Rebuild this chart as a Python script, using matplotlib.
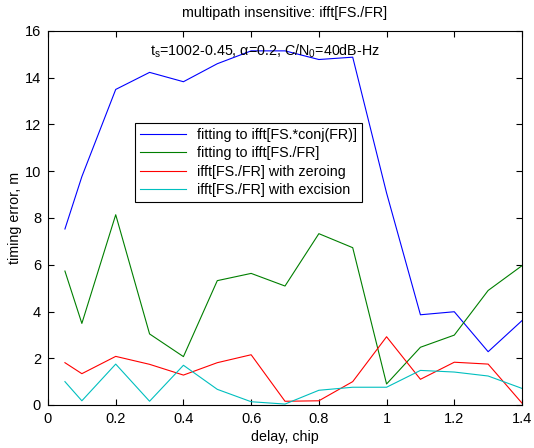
import matplotlib
matplotlib.use('Agg')
import matplotlib.pyplot as plt
import numpy as np

plt.rcParams['font.family'] = ['Liberation Sans', 'DejaVu Sans']
plt.rcParams['mathtext.default'] = 'regular'

# delay values (chip)
delay = [0.05, 0.1, 0.2, 0.3, 0.4, 0.5, 0.6, 0.7, 0.8, 0.9, 1.0, 1.1, 1.2, 1.3, 1.4]

# timing error, m
fit_conj = [7.53, 9.77, 13.5, 14.23, 13.83, 14.6, 15.15, 15.15, 14.78, 14.88, 9.07, 3.86, 3.99, 2.28, 3.61]
fit_div = [5.73, 3.49, 8.14, 3.04, 2.07, 5.32, 5.63, 5.09, 7.33, 6.73, 0.9, 2.47, 2.99, 4.9, 5.96]
zeroing = [1.81, 1.34, 2.08, 1.74, 1.28, 1.81, 2.15, 0.16, 0.18, 1.0, 2.92, 1.1, 1.83, 1.75, 0.08]
excision = [1.0, 0.18, 1.75, 0.16, 1.7, 0.67, 0.14, 0.04, 0.63, 0.76, 0.76, 1.48, 1.41, 1.24, 0.71]

labels = ['fitting to ifft[FS.*conj(FR)]', 'fitting to ifft[FS./FR]',
          'ifft[FS./FR] with zeroing', 'ifft[FS./FR] with excision']
colors = ['#0000ff', '#007f00', '#ff0000', '#00bfbf']

fig = plt.figure(figsize=(5.34, 4.48), dpi=100)
ax = fig.add_axes([48/534, 1-405/448, 474/534, 374/448])

for y, lab, c in zip([fit_conj, fit_div, zeroing, excision], labels, colors):
    ax.plot(delay, y, color=c, lw=0.8, label=lab)

ax.set_xlim(0, 1.4)
ax.set_ylim(0, 16)
ax.set_xticks(np.arange(0, 1.41, 0.2))
ax.set_xticklabels(['0', '0.2', '0.4', '0.6', '0.8', '1', '1.2', '1.4'])
ax.set_yticks(np.arange(0, 17, 2))
ax.tick_params(direction='in', top=True, right=True, length=4, labelsize=10.5,
               width=0.8, pad=5)
for s in ax.spines.values():
    s.set_linewidth(0.8)

ax.set_title('multipath insensitive: ifft[FS./FR]', fontsize=10.3, pad=10)
ax.set_xlabel('delay, chip', fontsize=10.3, labelpad=3)
ax.set_ylabel('timing error, m', fontsize=10.3, labelpad=2)

ax.text(0.215, 0.945, r'$t_s$=1002-0.45, $\alpha$=0.2, C/N$_0$=40dB-Hz',
        transform=ax.transAxes, fontsize=10.3, va='center', ha='left')

leg = ax.legend(loc='upper left', bbox_to_anchor=(0.1835, 0.754), fontsize=10.3,
                fancybox=False, framealpha=1, edgecolor='black',
                handlelength=3.2, labelspacing=0.3, borderpad=0.35, borderaxespad=0)
leg.get_frame().set_linewidth(0.8)

fig.savefig('out.png', dpi=100)
